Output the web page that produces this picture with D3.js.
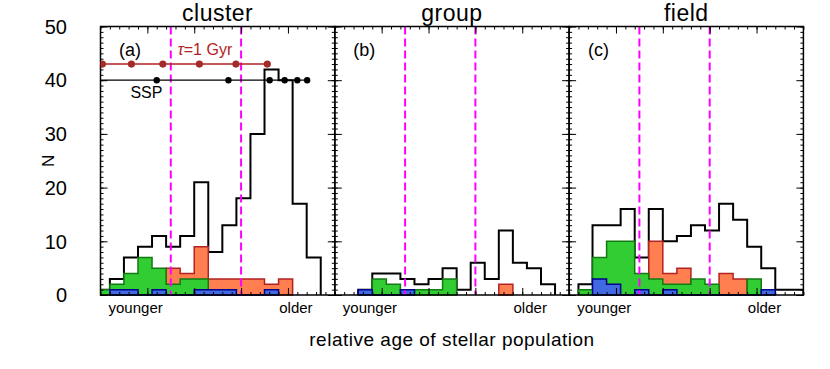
<!DOCTYPE html>
<html>
<head>
<meta charset="utf-8">
<script src="https://cdn.jsdelivr.net/npm/d3@7"></script>
<style>
  body { margin: 0; background: #fff; }
  svg { display: block; }
  text { font-family: "Liberation Sans", Arial, sans-serif; }
</style>
</head>
<body>
<svg id="chart" width="830" height="369"></svg>
<script>
// bin edges in relative-age units (first bin is cut by the axis)
let binEdges = [-0.1, 0.2, 0.5, 0.8, 1.1, 1.4, 1.7, 2.0, 2.3, 2.6, 2.9, 3.2, 3.5, 3.8, 4.1, 4.4, 4.7, 5.0]

let panelNames = ["cluster", "group", "field"]
let panelTags = ["(a)", "(b)", "(c)"]

// counts per bin: all galaxies (black) and the three coloured subsets
let allCluster    = [1, 3, 7, 9, 11, 9, 11, 21, 8, 13, 18, 30, 42, 40, 17, 7, 0]
let orangeCluster = [0, 0, 0, 0, 0, 5, 4, 9, 3, 3, 3, 3, 2, 3, 0, 0, 0]
let greenCluster  = [1, 2, 4, 7, 5, 2, 3, 3, 0, 0, 0, 0, 0, 0, 0, 0, 0]
let blueCluster   = [0, 1, 1, 0, 1, 0, 0, 1, 1, 1, 0, 0, 1, 0, 0, 0, 0]

let allGroup    = [0, 0, 1, 4, 4, 3, 2, 3, 5, 1, 6, 3, 12, 6, 5, 2, 0]
let orangeGroup = [0, 0, 0, 0, 0, 0, 0, 0, 0, 0, 0, 0, 2, 0, 0, 0, 0]
let greenGroup  = [0, 0, 0, 3, 2, 0, 1, 1, 3, 0, 0, 0, 0, 0, 0, 0, 0]
let blueGroup   = [0, 0, 1, 0, 0, 1, 0, 0, 0, 0, 0, 0, 0, 0, 0, 0, 0]

let allField    = [0, 2, 13, 13, 16, 7, 16, 10, 11, 13, 12, 17, 14, 9, 5, 1, 1]
let orangeField = [0, 0, 0, 0, 0, 0, 10, 4, 5, 0, 0, 4, 3, 0, 0, 0, 0]
let greenField  = [0, 1, 7, 10, 10, 4, 3, 2, 2, 3, 2, 0, 0, 3, 0, 0, 0]
let blueField   = [0, 0, 3, 2, 0, 1, 0, 1, 0, 0, 0, 0, 0, 0, 1, 0, 0]

let allSets    = [allCluster, allGroup, allField]
let orangeSets = [orangeCluster, orangeGroup, orangeField]
let greenSets  = [greenCluster, greenGroup, greenField]
let blueSets   = [blueCluster, blueGroup, blueField]

// model tracks in panel (a)
let tauAges = [0.04, 0.66, 1.33, 2.11, 2.89, 3.56]
let tauLevel = 43
let sspAges = [1.2, 2.73, 3.61, 3.93, 4.2, 4.41]
let sspLevel = 40

let dividers = [1.5, 3.0]
let xTickNames = ["younger", "older"]
let xTickSpots = [0.75, 4.17]
let yTicks = [0, 10, 20, 30, 40, 50]

let svg = d3.select("#chart")
let plotLeft = 100.5, plotTop = 26.5, pw = 234.3, ph = 268.5

let y = d3.scaleLinear().domain([0, 50]).range([plotTop + ph, plotTop])

let stepPoints = vals => {
    let idx = []
    vals.forEach((v, i) => { if (v > 0) idx.push(i) })
    let f = idx[0], l = idx[idx.length - 1]
    let pts = []
    for (let i = f; i <= l; i++) pts.push([binEdges[i], vals[i]])
    pts.push([binEdges[l + 1], vals[l]])
    return pts
}

panelNames.forEach((name, p) => {
    let x0 = plotLeft + p * pw
    let x = d3.scaleLinear().domain([0, 5]).range([x0, x0 + pw])

    svg.append("clipPath").attr("id", "clip" + p)
        .append("rect")
        .attr("x", x0).attr("y", plotTop - 2)
        .attr("width", pw).attr("height", ph + 4)

    let g = svg.append("g").attr("clip-path", "url(#clip" + p + ")")

    // black outline of all galaxies
    let blackPts = stepPoints(allSets[p])
    blackPts.unshift([blackPts[0][0], 0])
    blackPts.push([blackPts[blackPts.length - 1][0], 0])
    let line = d3.line().curve(d3.curveStepAfter)
        .x(d => x(d[0])).y(d => y(d[1]))
    g.append("path")
        .attr("d", line(blackPts))
        .attr("fill", "none")
        .attr("stroke", "#000")
        .attr("stroke-width", 2)

    let area = d3.area().curve(d3.curveStepAfter)
        .x(d => x(d[0])).y0(y(0)).y1(d => y(d[1]))

    let subsets = [
        [orangeSets[p], "#ff7f50", "#b22222"],
        [greenSets[p], "#32cd32", "#127a12"],
        [blueSets[p], "#4169e1", "#00008b"]
    ]
    subsets.forEach(s => {
        g.append("path")
            .attr("d", area(stepPoints(s[0])))
            .attr("fill", s[1])
            .attr("stroke", s[2])
            .attr("stroke-width", 1.5)
    })

    // dashed magenta dividers
    dividers.forEach(d => {
        g.append("line")
            .attr("x1", x(d)).attr("x2", x(d))
            .attr("y1", plotTop).attr("y2", plotTop + ph)
            .attr("stroke", "#ff00ff")
            .attr("stroke-width", 2)
            .attr("stroke-dasharray", "8,4")
    })

    // ticks on all four sides, pointing inward
    let addAxis = (axis, tx, ty) => {
        let a = svg.append("g").attr("transform", "translate(" + tx + "," + ty + ")").call(axis)
        a.select(".domain").remove()
        a.selectAll("line").attr("stroke", "#000").attr("stroke-width", 1)
    }
    let minorX = d3.range(0, 26).map(i => i * 0.2)
    let minorY = d3.range(0, 51)
    addAxis(d3.axisBottom(x).tickValues(minorX).tickSize(-3).tickFormat(""), 0, plotTop + ph)
    addAxis(d3.axisBottom(x).tickValues([1, 2, 3, 4]).tickSize(-7).tickFormat(""), 0, plotTop + ph)
    addAxis(d3.axisTop(x).tickValues(minorX).tickSize(-3).tickFormat(""), 0, plotTop)
    addAxis(d3.axisTop(x).tickValues([1, 2, 3, 4]).tickSize(-7).tickFormat(""), 0, plotTop)
    addAxis(d3.axisLeft(y).tickValues(minorY).tickSize(-3).tickFormat(""), x0, 0)
    addAxis(d3.axisLeft(y).tickValues(yTicks).tickSize(-7).tickFormat(""), x0, 0)
    addAxis(d3.axisRight(y).tickValues(minorY).tickSize(-3).tickFormat(""), x0 + pw, 0)
    addAxis(d3.axisRight(y).tickValues(yTicks).tickSize(-7).tickFormat(""), x0 + pw, 0)

    svg.append("rect")
        .attr("x", x0).attr("y", plotTop)
        .attr("width", pw).attr("height", ph)
        .attr("fill", "none")
        .attr("stroke", "#000")
        .attr("stroke-width", 1.5)

    svg.append("text")
        .attr("x", x0 + pw / 2).attr("y", 21)
        .attr("text-anchor", "middle")
        .attr("font-size", 23)
        .attr("letter-spacing", 0.5)
        .text(name)

    svg.append("text")
        .attr("x", x(0.63)).attr("y", y(44.5))
        .attr("text-anchor", "middle")
        .attr("font-size", 18)
        .text(panelTags[p])

    xTickNames.forEach((t, i) => {
        svg.append("text")
            .attr("x", x(xTickSpots[i])).attr("y", 313)
            .attr("text-anchor", "middle")
            .attr("font-size", 15)
            .text(t)
    })

    if (p === 0) {
        let tr = svg.append("g").attr("clip-path", "url(#clip0)")
        tr.append("line")
            .attr("x1", x(0)).attr("x2", x(d3.max(sspAges)))
            .attr("y1", y(sspLevel)).attr("y2", y(sspLevel))
            .attr("stroke", "#000").attr("stroke-width", 1.2)
        tr.selectAll(".ssp").data(sspAges).enter().append("circle")
            .attr("cx", d => x(d)).attr("cy", y(sspLevel)).attr("r", 3.2)
            .attr("fill", "#000")
        tr.append("line")
            .attr("x1", x(0)).attr("x2", x(d3.max(tauAges)))
            .attr("y1", y(tauLevel)).attr("y2", y(tauLevel))
            .attr("stroke", "#b22222").attr("stroke-width", 1.5)
        tr.selectAll(".tau").data(tauAges).enter().append("circle")
            .attr("cx", d => x(d)).attr("cy", y(tauLevel)).attr("r", 3.6)
            .attr("fill", "#a52a2a")

        let tl = svg.append("text")
            .attr("x", x(2.23)).attr("y", y(44.6))
            .attr("text-anchor", "middle")
            .attr("font-size", 16)
            .attr("fill", "#b22222")
        tl.append("tspan").attr("font-style", "italic").text("τ")
        tl.append("tspan").text("=1  Gyr")

        svg.append("text")
            .attr("x", x(0.98)).attr("y", y(36.6))
            .attr("text-anchor", "middle")
            .attr("font-size", 16)
            .text("SSP")

        // y tick labels
        yTicks.forEach(t => {
            svg.append("text")
                .attr("x", 67).attr("y", y(t))
                .attr("dy", "0.36em")
                .attr("text-anchor", "end")
                .attr("font-size", 20)
                .text(t)
        })
    }
})

svg.append("text")
    .attr("transform", "translate(54," + (plotTop + ph / 2) + ") rotate(-90)")
    .attr("text-anchor", "middle")
    .attr("font-size", 17)
    .text("N")

svg.append("text")
    .attr("x", plotLeft + 1.5 * pw).attr("y", 346)
    .attr("text-anchor", "middle")
    .attr("font-size", 19)
    .attr("letter-spacing", 0.5)
    .text("relative age of stellar population")
</script>
</body>
</html>
